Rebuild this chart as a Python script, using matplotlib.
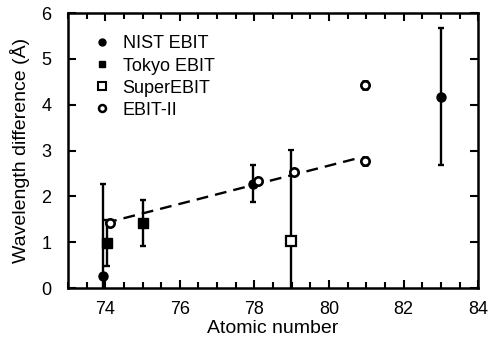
import matplotlib
matplotlib.use("Agg")
import matplotlib.pyplot as plt
from matplotlib.ticker import MultipleLocator
from matplotlib.lines import Line2D

plt.rcParams['font.family'] = ['Liberation Sans', 'DejaVu Sans']

# NIST EBIT
nist_z = [73.95, 77.95, 83.0]
nist_y = [0.27, 2.28, 4.18]
nist_err = [2.0, 0.4, 1.5]
# Tokyo EBIT
tokyo_z = [74.05, 75.0]
tokyo_y = [0.98, 1.42]
tokyo_err = [0.5, 0.5]
# SuperEBIT
super_z = [78.97]
super_y = [1.02]
super_err = [2.0]
# EBIT-II
ebit2_z = [74.12, 78.1, 79.05, 80.97, 80.97]
ebit2_y = [1.42, 2.33, 2.54, 2.77, 4.43]
ebit2_err = [0.06, 0.06, 0.06, 0.08, 0.08]
# dashed fit
fit_z = [74.0, 80.8]
fit_y = [1.42, 2.84]

xticks = [74, 76, 78, 80, 82, 84]
yticks = [0, 1, 2, 3, 4, 5, 6]
labels = ['NIST EBIT', 'Tokyo EBIT', 'SuperEBIT', 'EBIT-II']

fig = plt.figure(figsize=(4.92, 3.45), dpi=100)
ax = fig.add_axes([0.138, 0.165, 0.834, 0.797])

eb = dict(ecolor='black', elinewidth=1.7, capsize=2.5, capthick=1.7, linestyle='none')
ax.plot(fit_z, fit_y, color='black', linestyle=(0, (5, 3)), linewidth=1.7, zorder=2)
ax.errorbar(nist_z, nist_y, yerr=nist_err, fmt='o', color='black', markersize=6.5,
            zorder=3, **eb)
ax.errorbar(tokyo_z, tokyo_y, yerr=tokyo_err, fmt='s', color='black', markersize=6.5,
            zorder=3, **eb)
ax.errorbar(super_z, super_y, yerr=super_err, fmt='s', color='black', mfc='white',
            mew=1.6, markersize=7, zorder=4, **eb)
ax.errorbar(ebit2_z, ebit2_y, yerr=ebit2_err, fmt='o', color='black', mfc='white',
            mew=1.9, markersize=6, zorder=5, **eb)

ax.set_xlim(73, 84)
ax.set_ylim(0, 6)
ax.set_xticks(xticks)
ax.set_yticks(yticks)
ax.xaxis.set_minor_locator(MultipleLocator(0.5))
ax.tick_params(which='both', direction='in', top=True, right=True, width=1.5, labelsize=13)
ax.tick_params(which='major', length=6)
ax.tick_params(which='minor', length=4)
ax.tick_params(axis='x', pad=9)
ax.tick_params(axis='y', pad=12)
for s in ax.spines.values():
    s.set_linewidth(1.8)

ax.set_xlabel('Atomic number', fontsize=14, labelpad=2)
ax.set_ylabel('Wavelength difference (Å)', fontsize=14, labelpad=8)

hs = [Line2D([], [], marker='o', color='black', linestyle='none', markersize=5),
      Line2D([], [], marker='s', color='black', linestyle='none', markersize=5),
      Line2D([], [], marker='s', color='black', mfc='white', mew=1.5, linestyle='none', markersize=6),
      Line2D([], [], marker='o', color='black', mfc='white', mew=1.8, linestyle='none', markersize=5)]
ax.legend(hs, labels, loc='upper left', frameon=False, fontsize=13,
          handletextpad=0.35, handlelength=1.6, labelspacing=0.28,
          bbox_to_anchor=(0.03, 0.945), borderaxespad=0)

fig.savefig('out.png', dpi=100)
